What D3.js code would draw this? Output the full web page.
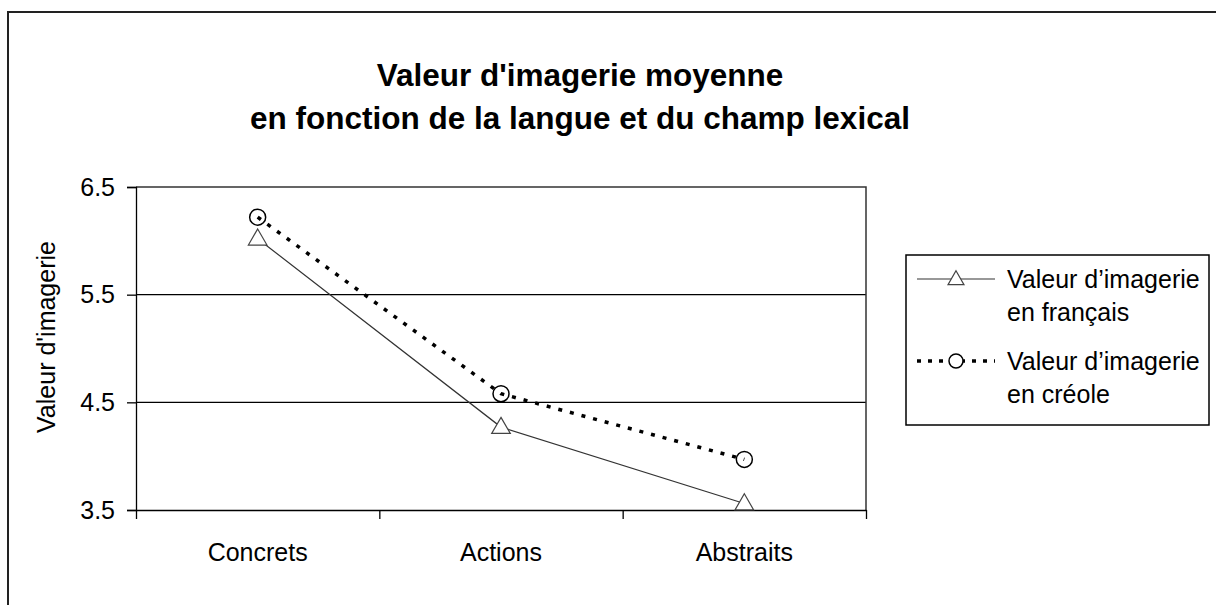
<!DOCTYPE html>
<html lang="fr">
<head>
<meta charset="UTF-8">
<title>Valeur d'imagerie moyenne</title>
<style>
    body { margin: 0; padding: 0; background: #fff; }
    svg { display: block; font-family: "Liberation Sans", Arial, sans-serif; }
</style>
</head>
<body>
<div id="chart"></div>
<script src="https://cdn.jsdelivr.net/npm/d3@7"></script>
<script>
    // data
    const categories = ["Concrets", "Actions", "Abstraits"];
    const francais = [6.02, 4.27, 3.56];
    const creole = [6.22, 4.58, 3.97];
    const yTicks = [3.5, 4.5, 5.5, 6.5];
    const seriesNames = [
        ["Valeur d\u2019imagerie", "en fran\u00e7ais"],
        ["Valeur d\u2019imagerie", "en cr\u00e9ole"]
    ];

    const w = 1216;
    const h = 605;
    const plot = { left: 136, right: 866, top: 187, bottom: 510 };

    const svg = d3.select("#chart")
        .append("svg")
        .attr("width", w)
        .attr("height", h);

    // outer frame (runs off the right and bottom edges)
    svg.append("rect")
        .attr("x", 8).attr("y", 12)
        .attr("width", w).attr("height", h)
        .attr("fill", "#fff")
        .attr("stroke", "#222")
        .attr("stroke-width", 2);

    // title
    svg.append("text")
        .attr("x", 580).attr("y", 86)
        .attr("text-anchor", "middle")
        .attr("font-size", 31.5).attr("font-weight", "bold")
        .text("Valeur d'imagerie moyenne");
    svg.append("text")
        .attr("x", 580).attr("y", 129)
        .attr("text-anchor", "middle")
        .attr("font-size", 31.5).attr("font-weight", "bold")
        .text("en fonction de la langue et du champ lexical");

    const x = d3.scaleBand()
        .domain(categories)
        .range([plot.left, plot.right]);
    const xTick = d3.scaleLinear()
        .domain([0, categories.length])
        .range([plot.left, plot.right]);
    const y = d3.scaleLinear()
        .domain([3.5, 6.5])
        .range([plot.bottom, plot.top]);
    const cx = (c) => x(c) + x.bandwidth() / 2;

    // gridlines
    svg.append("g")
        .selectAll("line")
        .data(yTicks.slice(1, -1))
        .enter()
        .append("line")
        .attr("x1", plot.left).attr("x2", plot.right)
        .attr("y1", (d) => y(d)).attr("y2", (d) => y(d))
        .attr("stroke", "#000").attr("stroke-width", 1.3);

    // plot box top and right
    svg.append("path")
        .attr("d", `M${plot.left},${plot.top}H${plot.right}V${plot.bottom}`)
        .attr("fill", "none")
        .attr("stroke", "#333").attr("stroke-width", 1.5);

    // y axis
    const yAxis = svg.append("g")
        .attr("transform", `translate(${plot.left},0)`)
        .call(d3.axisLeft(y).tickValues(yTicks).tickSize(9).tickPadding(12).tickFormat(d3.format(".1f")));
    yAxis.selectAll("text").attr("font-size", 25).attr("fill", "#000").attr("font-family", "Liberation Sans, Arial, sans-serif");
    yAxis.selectAll("line, path").attr("stroke", "#000").attr("stroke-width", 1.3);

    // x axis
    const xAxis = svg.append("g")
        .attr("transform", `translate(0,${plot.bottom})`)
        .call(d3.axisBottom(xTick).ticks(categories.length).tickSize(9).tickSizeOuter(0).tickFormat(""));
    xAxis.selectAll("line, path").attr("stroke", "#000").attr("stroke-width", 1.3);

    svg.append("g")
        .selectAll("text")
        .data(categories)
        .enter()
        .append("text")
        .attr("x", (d) => cx(d))
        .attr("y", 561)
        .attr("text-anchor", "middle")
        .attr("font-size", 25)
        .text((d) => d);

    // y axis title
    svg.append("text")
        .attr("transform", "translate(55,337) rotate(-90)")
        .attr("text-anchor", "middle")
        .attr("font-size", 25)
        .text("Valeur d'imagerie");

    // lines
    const line = d3.line()
        .x((d, i) => cx(categories[i]))
        .y((d) => y(d));

    svg.append("path")
        .datum(francais)
        .attr("d", line)
        .attr("fill", "none")
        .attr("stroke", "#333").attr("stroke-width", 1.2);

    svg.append("path")
        .datum(creole)
        .attr("d", line)
        .attr("fill", "none")
        .attr("stroke", "#000").attr("stroke-width", 3.5)
        .attr("stroke-dasharray", "4 8");

    const triangle = d3.symbol().type(d3.symbolTriangle);

    // markers
    svg.append("g")
        .selectAll("path")
        .data(francais)
        .enter()
        .append("path")
        .attr("d", triangle.size(150))
        .attr("transform", (d, i) => `translate(${cx(categories[i])},${y(d) + 1})`)
        .attr("fill", "#fff")
        .attr("stroke", "#444").attr("stroke-width", 1.2);

    svg.append("g")
        .selectAll("circle")
        .data(creole)
        .enter()
        .append("circle")
        .attr("cx", (d, i) => cx(categories[i]))
        .attr("cy", (d) => y(d))
        .attr("r", 8)
        .attr("fill", "none")
        .attr("stroke", "#000").attr("stroke-width", 1.5);

    // legend
    const legend = svg.append("g");
    legend.append("rect")
        .attr("x", 906).attr("y", 255)
        .attr("width", 303).attr("height", 170)
        .attr("fill", "#fff")
        .attr("stroke", "#000").attr("stroke-width", 1.5);

    const rowsY = [279, 361];
    legend.selectAll(".item")
        .data(seriesNames)
        .enter()
        .append("text")
        .attr("x", 1007)
        .attr("y", (d, i) => rowsY[i] + 9)
        .attr("font-size", 25)
        .each(function (d) {
            d3.select(this).selectAll("tspan")
                .data(d)
                .enter()
                .append("tspan")
                .attr("x", 1007)
                .attr("dy", (t, j) => j === 0 ? 0 : 33)
                .text((t) => t);
        });

    legend.append("line")
        .attr("x1", 917).attr("x2", 995)
        .attr("y1", rowsY[0]).attr("y2", rowsY[0])
        .attr("stroke", "#333").attr("stroke-width", 1.2);
    legend.append("path")
        .attr("d", triangle.size(110))
        .attr("transform", `translate(956,${rowsY[0] + 1})`)
        .attr("fill", "#fff")
        .attr("stroke", "#444").attr("stroke-width", 1.2);

    legend.append("line")
        .attr("x1", 917).attr("x2", 995)
        .attr("y1", rowsY[1]).attr("y2", rowsY[1])
        .attr("stroke", "#000").attr("stroke-width", 3.5)
        .attr("stroke-dasharray", "4 7");
    legend.append("circle")
        .attr("cx", 956).attr("cy", rowsY[1])
        .attr("r", 7)
        .attr("fill", "#fff")
        .attr("stroke", "#000").attr("stroke-width", 1.5);
</script>
</body>
</html>
